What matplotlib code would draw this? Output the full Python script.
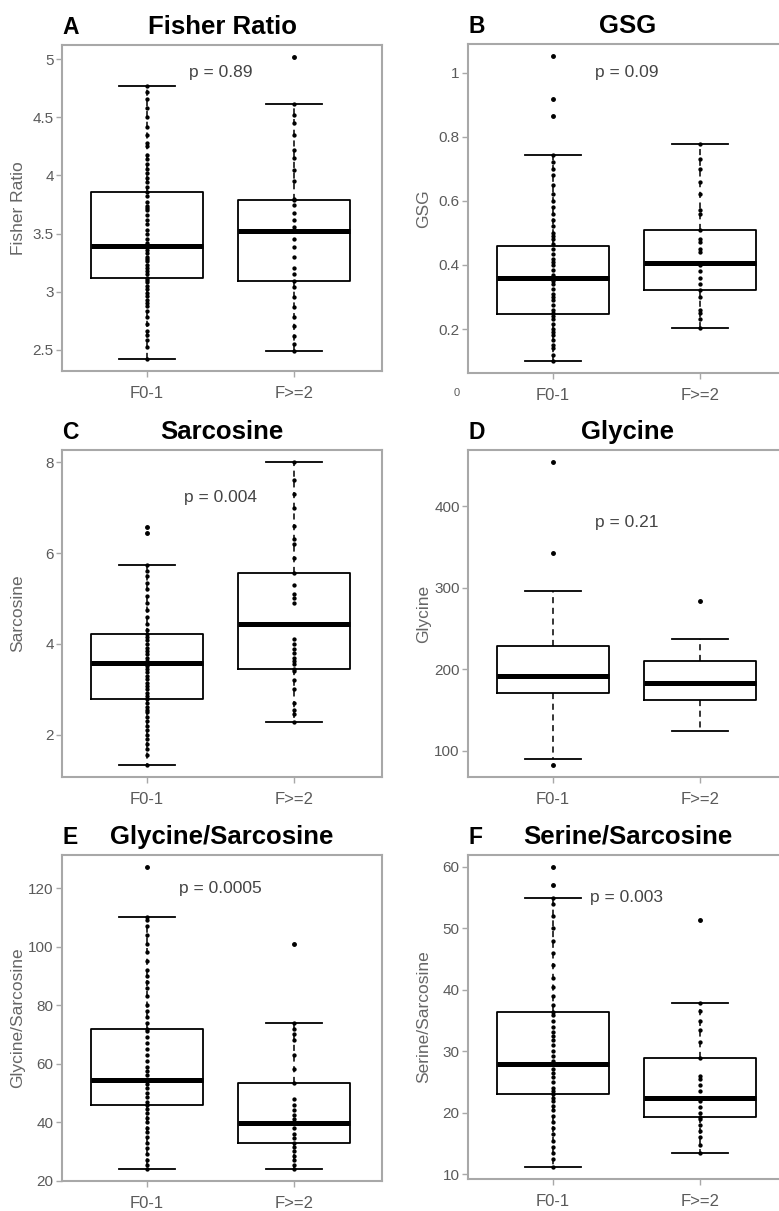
import numpy as np
import matplotlib
matplotlib.use("Agg")
import matplotlib.pyplot as plt
from matplotlib.ticker import FuncFormatter

plt.rcParams['font.family'] = ['Liberation Sans', 'DejaVu Sans']

groups = ["F0-1", "F>=2"]
letters = ["A", "B", "C", "D", "E", "F"]
titles = ["Fisher Ratio", "GSG", "Sarcosine", "Glycine", "Glycine/Sarcosine", "Serine/Sarcosine"]
ylabels = titles
pvalues = ["p = 0.89", "p = 0.09", "p = 0.004", "p = 0.21", "p = 0.0005", "p = 0.003"]
p_y = [4.89, 1.0, 7.22, 380, 120, 55]

# box statistics per panel: [F0-1, F>=2]
q1 = [[3.12, 3.09], [0.247, 0.322], [2.78, 3.46], [171, 161.5], [46.0, 32.9], [23.05, 19.3]]
med = [[3.39, 3.52], [0.358, 0.405], [3.59, 4.45], [191.8, 182.8], [54.4, 39.7], [27.9, 22.5]]
q3 = [[3.86, 3.79], [0.46, 0.509], [4.21, 5.55], [228, 209.4], [72.0, 53.4], [36.4, 29.0]]
whislo = [[2.42, 2.49], [0.101, 0.202], [1.34, 2.28], [89.3, 123.4], [24.0, 24.0], [11.2, 13.45]]
whishi = [[4.77, 4.62], [0.744, 0.777], [5.73, 8.0], [296, 236.9], [110.1, 74.0], [54.9, 37.9]]
fliers = [
    [[], [5.02]],
    [[1.051, 0.919, 0.863], []],
    [[6.57, 6.43], []],
    [[454, 342.6, 82.4], [283]],
    [[127.2], [101]],
    [[60.0, 57.1], [51.4]],
]

# individual observations drawn over the boxes (strip chart)
A_f01 = [2.42, 2.52, 2.58, 2.63, 2.66, 2.72, 2.78, 2.83, 2.88, 2.9, 2.93, 2.96, 2.99, 3.02, 3.05,
         3.08, 3.1, 3.12, 3.15, 3.18, 3.2, 3.23, 3.26, 3.28, 3.3, 3.33, 3.36, 3.38, 3.39, 3.42,
         3.45, 3.5, 3.53, 3.58, 3.62, 3.66, 3.7, 3.72, 3.74, 3.77, 3.82, 3.86, 3.9, 3.94, 3.98,
         4.02, 4.06, 4.1, 4.14, 4.18, 4.25, 4.28, 4.35, 4.42, 4.5, 4.58, 4.66, 4.72, 4.77]
A_f2 = [2.49, 2.55, 2.62, 2.7, 2.78, 2.87, 2.95, 3.04, 3.09, 3.15, 3.2, 3.3, 3.38, 3.45, 3.52,
        3.56, 3.62, 3.68, 3.75, 3.79, 3.8, 3.95, 4.05, 4.15, 4.22, 4.35, 4.45, 4.52, 4.62]
B_f01 = [0.10, 0.12, 0.14, 0.15, 0.165, 0.18, 0.19, 0.2, 0.215, 0.23, 0.24, 0.25, 0.26, 0.275,
         0.29, 0.3, 0.31, 0.325, 0.34, 0.35, 0.36, 0.37, 0.385, 0.4, 0.41, 0.42, 0.435, 0.45,
         0.465, 0.48, 0.49, 0.5, 0.52, 0.54, 0.56, 0.58, 0.6, 0.62, 0.65, 0.68, 0.7, 0.72, 0.744]
B_f2 = [0.202, 0.23, 0.25, 0.26, 0.3, 0.322, 0.34, 0.36, 0.38, 0.4, 0.44, 0.45, 0.47, 0.48,
        0.509, 0.56, 0.57, 0.62, 0.66, 0.7, 0.73, 0.777]
C_f01 = [1.34, 1.55, 1.7, 1.8, 1.9, 2.0, 2.1, 2.2, 2.3, 2.4, 2.5, 2.55, 2.62, 2.7, 2.78, 2.85,
         2.92, 3.0, 3.08, 3.15, 3.22, 3.3, 3.38, 3.45, 3.52, 3.58, 3.62, 3.7, 3.78, 3.85, 3.92,
         4.0, 4.08, 4.15, 4.21, 4.3, 4.45, 4.6, 4.75, 4.9, 5.05, 5.2, 5.35, 5.5, 5.6, 5.73]
C_f2 = [2.28, 2.45, 2.55, 2.7, 3.0, 3.2, 3.4, 3.46, 3.55, 3.62, 3.7, 3.8, 3.9, 4.0, 4.1, 4.9,
        5.0, 5.1, 5.3, 5.55, 5.9, 6.2, 6.3, 6.6, 7.0, 7.3, 7.6, 8.0]
D_f01 = []
D_f2 = []
E_f01 = [24, 25.5, 27, 29, 31, 33, 35, 36.5, 38, 40, 41.5, 43, 44.5, 46, 47, 48.5, 50, 51.5, 53,
         54.4, 56, 57.5, 59, 61, 63, 65, 67, 69, 71, 72, 74, 76, 78, 80, 83, 86, 88, 90, 92, 95,
         98, 101, 104, 107, 109, 110.1]
E_f2 = [24, 25.5, 27, 28.5, 30, 31.5, 32.9, 34.5, 36, 38, 39.7, 41, 42.5, 44, 46, 48, 53.4, 58,
        63, 68, 70, 72, 74]
F_f01 = [11.2, 12.5, 13.5, 14.5, 15.5, 16.5, 17.5, 18.5, 19.5, 20.5, 21.2, 22, 22.5, 23, 23.5,
         24, 25, 25.8, 26.5, 27.2, 27.9, 28.5, 29.2, 30, 31, 31.8, 32.5, 33.2, 34, 35, 36, 36.4,
         37.5, 39, 40.5, 42, 44, 46, 48, 50, 52, 54, 54.9]
F_f2 = [13.45, 14.8, 16, 17, 18, 19, 19.3, 20, 21, 22, 22.5, 23.5, 24.5, 25.5, 26, 29, 31.5,
        33.5, 35, 36.5, 37.9]
points = [(A_f01, A_f2), (B_f01, B_f2), (C_f01, C_f2), (D_f01, D_f2), (E_f01, E_f2), (F_f01, F_f2)]

yticks = [[2.5, 3, 3.5, 4, 4.5, 5], [0.2, 0.4, 0.6, 0.8, 1.0], [2, 4, 6, 8],
          [100, 200, 300, 400], [20, 40, 60, 80, 100, 120], [10, 20, 30, 40, 50, 60]]

W, H = 779, 1211
fig = plt.figure(figsize=(W / 100, H / 100), dpi=100)
# axes rectangles in pixels: left, top, right, bottom
rects = [(62, 45, 382, 371), (468, 44, 788, 373),
         (62, 450, 382, 777), (468, 450, 788, 777),
         (62, 855, 382, 1181), (468, 855, 788, 1179)]

grey_txt = '#5a5a5a'
frame = '#a8a8a8'

for i in range(6):
    l, t, r, b = rects[i]
    ax = fig.add_axes([l / W, 1 - b / H, (r - l) / W, (b - t) / H])
    stats = []
    for g in range(2):
        stats.append(dict(q1=q1[i][g], med=med[i][g], q3=q3[i][g],
                          whislo=whislo[i][g], whishi=whishi[i][g],
                          fliers=fliers[i][g], label=groups[g]))
    ax.bxp(stats, positions=[1, 2], widths=0.76, showfliers=True,
           boxprops=dict(color='black', linewidth=1.3),
           medianprops=dict(color='black', linewidth=3.6, solid_capstyle='butt'),
           whiskerprops=dict(color='black', linewidth=1.1, linestyle=(0, (4, 3))),
           capprops=dict(color='black', linewidth=1.3),
           flierprops=dict(marker='o', markersize=2.5, markerfacecolor='black',
                           markeredgecolor='black', linestyle='none'))
    for g in range(2):
        pts = points[i][g]
        if len(pts):
            ax.plot(np.full(len(pts), g + 1), pts, 'o', ms=2.1, color='black',
                    mec='black', zorder=5)
    allv = []
    for g in range(2):
        allv += [whislo[i][g], whishi[i][g]] + list(fliers[i][g])
    lo, hi = min(allv), max(allv)
    pad = (hi - lo) * 0.04
    ax.set_ylim(lo - pad, hi + pad)
    ax.set_xlim(0.42, 2.6)
    ax.set_xticks([1, 2])
    ax.set_xticklabels(groups)
    ax.set_yticks(yticks[i])
    ax.yaxis.set_major_formatter(FuncFormatter(lambda v, p: '%g' % v))
    ax.tick_params(axis='both', colors=frame, labelcolor=grey_txt, length=4, width=1)
    ax.tick_params(axis='y', labelsize=11, pad=2)
    ax.tick_params(axis='x', labelsize=12, pad=7)
    for s in ax.spines.values():
        s.set_color(frame)
        s.set_linewidth(1.5)
    ax.set_ylabel(ylabels[i], fontsize=12.5, color='#666666')
    ax.yaxis.set_label_coords(-44 / 320, 0.5)
    ax.yaxis.label.set_va('center')
    ax.set_title(titles[i], fontsize=18.5, fontweight='bold', pad=8)
    ax.set_title(letters[i], loc='left', fontsize=16.5, fontweight='bold', pad=8)
    ax.text(1.5, p_y[i], pvalues[i], ha='center', va='center', fontsize=12.5, color='#444444')

fig.text(457 / W, 1 - 393 / H, '0', fontsize=8, color=grey_txt, ha='center', va='center')

fig.savefig('out.png', dpi=100, facecolor='white')
